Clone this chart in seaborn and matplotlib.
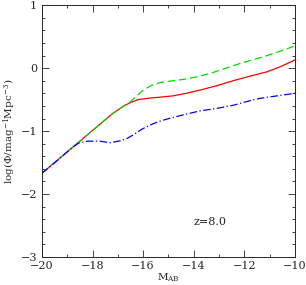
import numpy as np
import pandas as pd
import seaborn as sns
import matplotlib.pyplot as plt
from matplotlib.ticker import MultipleLocator

# valores
m_red = [-20, -19, -18, -17.2, -16.8, -16.52, -16.2, -15.73, -15.3, -14.81, -14.3,
         -13.76, -13.1, -12.44, -11.8, -11.12, -10.59, -10.0]
phi_red = [-1.67, -1.33, -0.99, -0.72, -0.61, -0.55, -0.50, -0.475, -0.46, -0.44, -0.40,
           -0.35, -0.28, -0.20, -0.13, -0.06, 0.02, 0.13]

m_green = [-20, -19, -18, -17.2, -16.8, -16.52, -16.25, -16.0, -15.65, -15.34, -14.9,
           -14.42, -13.9, -13.36, -12.8, -12.17, -11.6, -11.12, -10.5, -10.0]
phi_green = [-1.67, -1.33, -0.99, -0.72, -0.61, -0.54, -0.44, -0.35, -0.27, -0.23, -0.205,
             -0.18, -0.14, -0.085, -0.01, 0.074, 0.14, 0.196, 0.28, 0.354]

m_blue = [-20, -19.4, -18.83, -18.55, -18.2, -17.71, -17.3, -16.92, -16.65, -16.39, -16.05,
          -15.73, -15.4, -15.07, -14.4, -13.76, -13.1, -12.44, -11.9, -11.38, -10.7, -10.0]
phi_blue = [-1.67, -1.47, -1.27, -1.19, -1.16, -1.16, -1.185, -1.155, -1.12, -1.06, -0.97,
            -0.905, -0.85, -0.81, -0.74, -0.68, -0.64, -0.59, -0.53, -0.48, -0.44, -0.40]

df = pd.concat([
    pd.DataFrame({'M': m_red, 'phi': phi_red, 'modelo': 'rojo'}),
    pd.DataFrame({'M': m_green, 'phi': phi_green, 'modelo': 'verde'}),
    pd.DataFrame({'M': m_blue, 'phi': phi_blue, 'modelo': 'azul'}),
])

sns.set_style("ticks")
plt.rcParams['font.family'] = ['DejaVu Serif']
plt.rcParams['mathtext.fontset'] = 'dejavuserif'
fig = plt.figure(figsize=(3.06, 2.85), dpi=100)
ax = fig.add_axes([0.137, 0.098, 0.827, 0.884])

colores = {'rojo': '#ff0000', 'verde': '#00dd00', 'azul': '#0000ff'}
estilos = {'rojo': '', 'verde': (6, 3), 'azul': (6, 2, 1, 2)}
sns.lineplot(data=df, x='M', y='phi', hue='modelo', style='modelo',
             palette=colores, dashes=estilos, linewidth=0.9, legend=False, ax=ax,
             sort=False)

ax.set_xlim(-20, -10)
ax.set_ylim(-3, 1)
ax.xaxis.set_major_locator(MultipleLocator(2))
ax.xaxis.set_minor_locator(MultipleLocator(1))
ax.yaxis.set_major_locator(MultipleLocator(1))
ax.yaxis.set_minor_locator(MultipleLocator(0.2))
ax.tick_params(which='both', direction='in', top=True, right=True, labelsize=8, width=0.6)
ax.tick_params(axis='x', which='major', pad=3)
ax.tick_params(which='major', length=5)
ax.tick_params(which='minor', length=2.5)
for s in ax.spines.values():
    s.set_linewidth(0.7)

ax.set_xlabel('M$_{\\mathrm{AB}}$', fontsize=7.5, labelpad=0)
ax.set_ylabel('log($\\Phi$/mag$^{-1}$Mpc$^{-3}$)', fontsize=7.5, labelpad=2)
ax.text(-14.0, -2.45, 'z=8.0', fontsize=8, va='center')

plt.savefig('out.png', dpi=100)
